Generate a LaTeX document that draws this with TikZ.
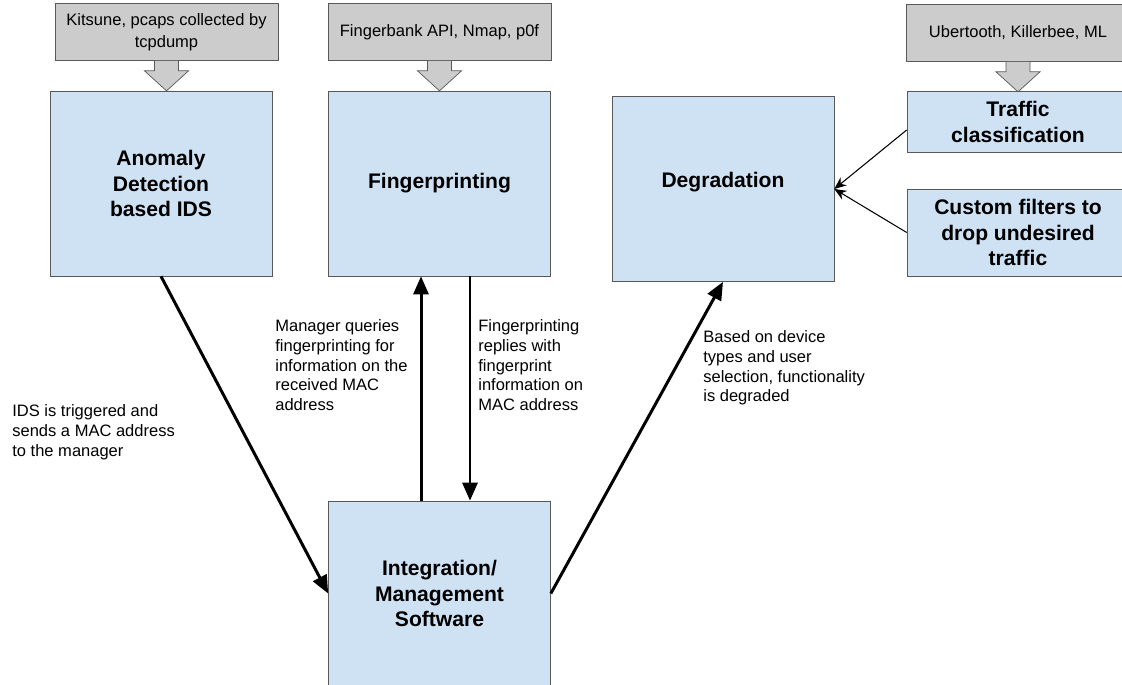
\documentclass[tikz,border=0pt]{standalone}
\usepackage{fontspec}
\setmainfont{Liberation Sans}
\usetikzlibrary{arrows.meta}
\definecolor{paleblue}{HTML}{CFE2F3}
\definecolor{srcgray}{HTML}{CCCCCC}
\definecolor{rimgray}{HTML}{595959}
\newcommand{\feedarrow}[1]{%
  \draw[draw=rimgray, fill=srcgray] ([xshift=-0.24cm]#1.south) -- ++(0,10) -- ++(-10,0)
        -- ++(22,20) -- ++(22,-20) -- ++(-10,0) -- ++(0,-10);}

\begin{document}
\begin{tikzpicture}[x=0.02cm, y=-0.02cm,
    block/.style={draw=rimgray, fill=paleblue, minimum width=4.44cm, minimum height=3.7cm,
                  align=center, inner sep=0pt, font=\fontsize{12}{14.5}\selectfont\bfseries},
    src/.style={draw=rimgray, fill=srcgray, minimum width=4.46cm, minimum height=1.14cm,
                align=center, inner sep=0pt, font=\fontsize{9.4}{12.5}\selectfont},
    note/.style={anchor=north west, align=left, inner sep=0pt, font=\fontsize{9.4}{11.3}\selectfont},
    flow/.style={line width=1.7pt, -{Triangle[length=3.6mm,width=3mm]}},
    feed/.style={line width=0.6pt, -{Stealth[length=2.4mm,width=2mm]}}]
        \useasboundingbox (0,0) rectangle (1122,685);

        \node[block] (ids) at (161,183.5)   {Anomaly\\Detection\\based IDS};
        \node[block] (fp)  at (439.5,183.5) {Fingerprinting};
        \node[block, text depth=0.37cm] (deg) at (723,189) {Degradation};
        \node[block] (mgr) at (439.5,593.5) {Integration/\\Management\\Software};
        \node[block, minimum height=1.22cm] (tc) at (1018,122)   {Traffic\\classification};
        \node[block, minimum height=1.74cm] (cf) at (1018,232.5) {Custom filters to\\drop undesired\\traffic};

        \node[src] (ks) at (166.5,32) {Kitsune, pcaps collected by\\tcpdump};
        \node[src] (fb) at (439.5,32) {Fingerbank API, Nmap, p0f};
        \node[src] (ub) at (1018,33)  {Ubertooth, Killerbee, ML};
        \feedarrow{ks}
        \feedarrow{fb}
        \feedarrow{ub}

        % Draw the edges
        \draw[flow] (ids.south) -- (mgr.west);
        \draw[flow] ([xshift=-0.37cm]mgr.north) -- ([xshift=-0.37cm]fp.south);
        \draw[flow] ([xshift=0.61cm]fp.south) -- ([xshift=0.61cm]mgr.north);
        \draw[flow] (mgr.east) -- (deg.south);
        \draw[feed] ([yshift=-0.16cm]tc.west) -- (deg.east);
        \draw[feed] (cf.west) -- (deg.east);

        \node[note] (n1) at (12,404)  {IDS is triggered and\\sends a MAC address\\to the manager};
        \node[note] (n2) at (275,319) {Manager queries\\fingerprinting for\\information on the\\received MAC\\address};
        \node[note] (n3) at (478,319) {Fingerprinting\\replies with\\fingerprint\\information on\\MAC address};
        \node[note] (n4) at (703,330) {Based on device\\types and user\\selection, functionality\\is degraded};
    \end{tikzpicture}
\end{document}
